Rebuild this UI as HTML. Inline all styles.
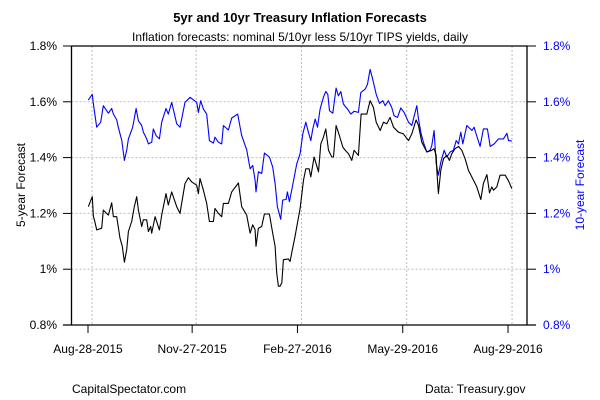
<!DOCTYPE html>
<html><head><meta charset="utf-8"><style>
html,body{margin:0;padding:0;background:#fff;}
svg{display:block;font-family:"Liberation Sans",Arial,sans-serif;}
</style></head><body>
<svg id="chart" width="600" height="400" viewBox="0 0 600 400">
<rect width="600" height="400" fill="#fff"/>
<text x="300" y="22" text-anchor="middle" font-size="13" font-weight="bold">5yr and 10yr Treasury Inflation Forecasts</text>
<text x="300" y="41" text-anchor="middle" font-size="12">Inflation forecasts: nominal 5/10yr less 5/10yr TIPS yields, daily</text>
<g id="grid"></g>
<g id="series"></g>
<g id="axes"></g>
<text transform="translate(25,185) rotate(-90)" text-anchor="middle" font-size="12">5-year Forecast</text>
<text transform="translate(584,185) rotate(-90)" text-anchor="middle" font-size="12" fill="#0000ff">10-year Forecast</text>
<text x="72" y="393" font-size="12">CapitalSpectator.com</text>
<text x="425" y="393" font-size="12">Data: Treasury.gov</text>
</svg>
<script>
const xTickLabels = ["Aug-28-2015","Nov-27-2015","Feb-27-2016","May-29-2016","Aug-29-2016"];
const xTickDays = [0,91,183,275,367];
const yTicks = [0.8,1.0,1.2,1.4,1.6,1.8];
const yTickLabels = ["0.8%","1%","1.2%","1.4%","1.6%","1.8%"];
const days5 = [-3.2,0.3,1.2,2.1,4.1,8.5,9.9,14.3,17.2,18.7,21.6,24.5,26.5,28.3,30.3,31.8,34.7,37.0,39.1,40.5,43.4,44.9,47.8,49.3,51.3,52.2,55.1,58.9,60.9,64.7,66.7,69.6,74.0,76.9,81.3,84.2,87.1,91.5,93.0,94.4,97.3,100.2,102.6,106.1,107.5,110.4,113.3,114.8,119.2,122.1,127.9,130.8,135.2,138.1,140.4,142.5,143.3,145.4,148.3,150.6,155.0,157.9,160.0,161.4,162.9,164.3,165.8,167.2,171.6,173.1,174.5,177.4,181.8,184.8,186.8,189.7,191.2,194.1,195.8,197.9,199.9,202.2,204.3,206.6,209.5,211.0,213.3,216.2,219.1,221.2,224.1,227.0,229.0,232.8,235.1,240.1,243.0,245.9,248.3,251.8,254.7,257.6,260.5,263.4,267.8,272.1,276.5,279.4,283.2,285.3,288.2,292.5,296.9,298.9,300.7,301.3,302.7,304.8,307.1,310.0,312.3,314.4,317.3,320.2,323.1,326.0,328.9,333.3,336.2,339.7,342.0,345.0,347.3,349.3,350.8,353.7,356.6,361.0,363.9,366.8];
const values5 = [1.224,1.260,1.188,1.177,1.141,1.147,1.212,1.194,1.238,1.188,1.188,1.111,1.082,1.025,1.070,1.135,1.171,1.224,1.260,1.212,1.153,1.177,1.177,1.135,1.153,1.129,1.188,1.141,1.194,1.271,1.230,1.277,1.224,1.200,1.307,1.328,1.313,1.301,1.271,1.325,1.283,1.236,1.171,1.171,1.218,1.200,1.188,1.236,1.236,1.277,1.309,1.224,1.194,1.129,1.159,1.141,1.082,1.147,1.153,1.198,1.198,1.129,1.082,0.987,0.939,0.939,0.951,1.034,1.037,1.028,1.058,1.117,1.218,1.319,1.360,1.360,1.331,1.402,1.378,1.349,1.449,1.473,1.503,1.426,1.402,1.402,1.515,1.479,1.438,1.426,1.414,1.390,1.426,1.408,1.556,1.556,1.604,1.580,1.527,1.497,1.527,1.521,1.544,1.509,1.491,1.485,1.461,1.485,1.535,1.515,1.455,1.420,1.426,1.432,1.408,1.355,1.271,1.355,1.396,1.408,1.390,1.414,1.432,1.440,1.426,1.396,1.355,1.319,1.295,1.250,1.307,1.339,1.274,1.295,1.283,1.295,1.337,1.337,1.317,1.289];
const days10 = [-3.2,0.3,1.2,4.1,7.6,9.9,14.3,17.2,18.7,21.6,23.0,26.0,28.3,30.3,31.8,35.6,38.5,40.5,43.4,44.9,47.8,49.3,52.2,53.6,56.0,58.9,60.9,64.7,66.7,69.6,74.0,76.9,81.3,85.7,91.5,93.0,95.0,97.3,100.2,102.6,106.1,107.5,110.4,113.3,114.8,119.2,122.1,127.3,129.4,130.8,135.2,138.1,140.4,142.5,143.3,145.4,148.3,150.6,155.0,157.9,160.0,162.0,164.9,166.6,169.6,170.7,172.5,174.5,178.9,181.8,184.2,186.8,189.1,191.2,192.9,195.0,197.0,199.3,202.2,204.3,206.0,207.5,210.4,213.3,215.3,217.4,219.7,223.2,226.1,229.0,232.8,234.9,238.6,240.7,243.0,245.3,248.3,251.2,254.1,256.1,259.0,261.9,264.0,266.9,269.8,272.7,276.5,279.4,282.3,283.8,285.3,287.3,289.6,292.5,295.4,296.9,298.9,300.7,302.7,304.8,307.7,310.0,312.9,315.8,318.2,320.2,322.2,324.0,327.5,331.9,333.9,335.6,339.1,342.0,345.5,347.9,351.4,355.2,359.5,362.5,363.9,366.8];
const values10 = [1.606,1.627,1.592,1.509,1.527,1.586,1.559,1.576,1.556,1.535,1.509,1.461,1.390,1.426,1.467,1.509,1.576,1.532,1.515,1.491,1.467,1.449,1.455,1.503,1.479,1.467,1.527,1.576,1.556,1.598,1.521,1.509,1.598,1.616,1.598,1.562,1.604,1.574,1.556,1.461,1.452,1.473,1.455,1.449,1.515,1.499,1.542,1.556,1.509,1.479,1.428,1.360,1.372,1.319,1.277,1.349,1.343,1.416,1.402,1.366,1.307,1.224,1.179,1.248,1.250,1.277,1.242,1.283,1.378,1.414,1.485,1.527,1.491,1.461,1.503,1.538,1.509,1.574,1.616,1.637,1.627,1.568,1.559,1.649,1.621,1.637,1.592,1.574,1.556,1.566,1.562,1.633,1.645,1.663,1.716,1.681,1.627,1.594,1.604,1.586,1.604,1.580,1.550,1.544,1.578,1.562,1.527,1.515,1.562,1.586,1.538,1.491,1.455,1.420,1.426,1.443,1.497,1.378,1.337,1.384,1.426,1.402,1.420,1.426,1.461,1.449,1.491,1.449,1.515,1.497,1.509,1.485,1.440,1.503,1.503,1.440,1.449,1.467,1.467,1.487,1.461,1.459];

const NS="http://www.w3.org/2000/svg";
const L=71.5,R=527,T=46,B=325;
const xScale=d=>92+d*1.1445;
const yScale=v=>B-(v-0.8)*(B-T);
function mk(tag,attrs,parent){const e=document.createElementNS(NS,tag);for(const k in attrs)e.setAttribute(k,attrs[k]);parent.appendChild(e);return e;}
const grid=document.getElementById('grid'),axes=document.getElementById('axes'),ser=document.getElementById('series');
yTicks.forEach((v,i)=>{
  if(i>0&&i<yTicks.length-1){
    const g=mk('line',{x1:L,x2:R,y1:yScale(v),y2:yScale(v),stroke:'#bbb','stroke-dasharray':'2,2'},grid);
    
    
  }
  const tl=mk('line',{x1:63,x2:L,y1:yScale(v),y2:yScale(v),stroke:'#000'},axes);
  
  
  const tr=mk('line',{x1:R,x2:536,y1:yScale(v),y2:yScale(v),stroke:'#000'},axes);
  
  
  const a=mk('text',{x:57,y:yScale(v)+4,'text-anchor':'end','font-size':'12'},axes);a.textContent=yTickLabels[i];
  
  
  const b=mk('text',{x:543,y:yScale(v)+4,'font-size':'12',fill:'#0000ff'},axes);b.textContent=yTickLabels[i];
  
  
});
xTickDays.forEach((d,i)=>{
  const x=xScale(d);
  const g=mk('line',{x1:x,x2:x,y1:T,y2:B,stroke:'#bbb','stroke-dasharray':'2,2'},grid);
  
  
  const t=mk('line',{x1:x-4,x2:x-4,y1:B,y2:B+8,stroke:'#000'},axes);
  
  
  const lb=mk('text',{x:x-4,y:353,'text-anchor':'middle','font-size':'12'},axes);lb.textContent=xTickLabels[i];
  
  
});
const box=mk('path',{d:`M${L},${T}H${R}V${B}M${63},${B}H536M${L},${T}V${B}`,stroke:'#000',fill:'none','stroke-width':1.3},axes);


function line(days,vals,color,name){
  const d=days.map((t,i)=>(i?'L':'M')+xScale(t).toFixed(1)+','+yScale(vals[i]).toFixed(1)).join('');
  const p=mk('path',{d:d,stroke:color,fill:'none','stroke-width':1.1,'stroke-linejoin':'round'},ser);
  
  
}
line(days10,values10,'#0000ff','series-10yr-forecast');
line(days5,values5,'#000000','series-5yr-forecast');
</script>
</body></html>
